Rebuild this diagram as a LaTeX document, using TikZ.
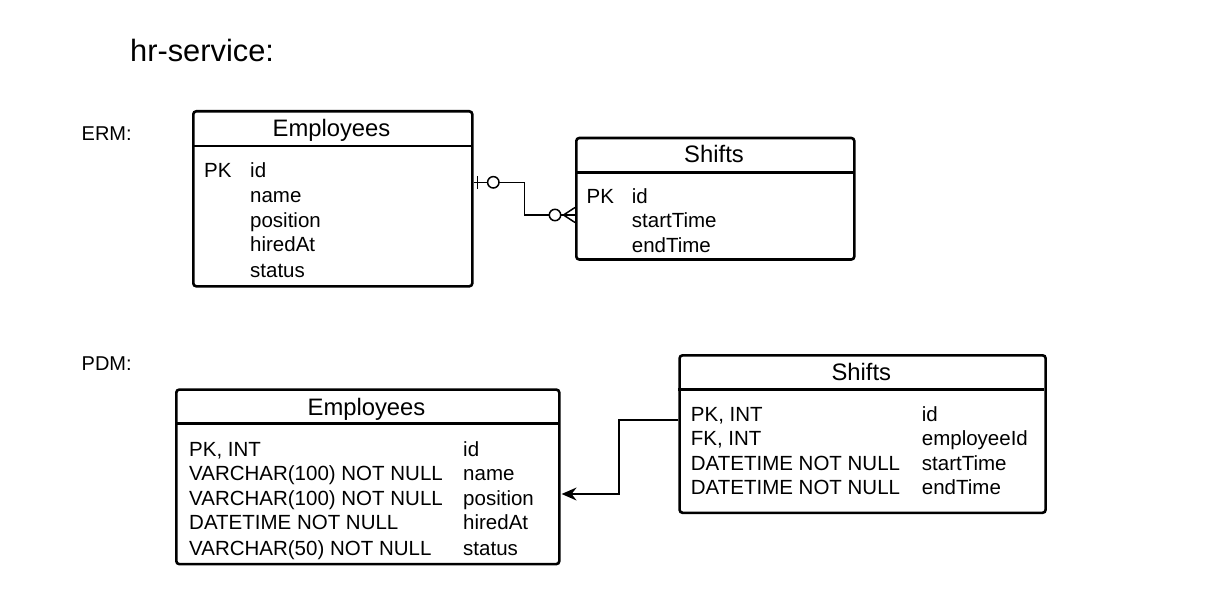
\documentclass[tikz,border=0pt]{standalone}
\usepackage{fontspec}
\setmainfont{Liberation Sans}
\usetikzlibrary{arrows.meta}
\begin{document}
\begin{tikzpicture}[x=1pt,y=-1pt,
  tbl/.style={draw, line width=2.6pt, rounded corners=3pt, inner sep=0pt, anchor=north west},
  sep/.style={line width=2.6pt},
  ttl/.style={inner sep=0pt, anchor=base, font=\fontsize{23.8}{28}\selectfont},
  row/.style={inner sep=0pt, anchor=base west, font=\fontsize{20.5}{24}\selectfont},
  lbl/.style={inner sep=0pt, anchor=base west, font=\fontsize{20}{24}\selectfont},
  conn/.style={line width=1.5pt},
]
\useasboundingbox (0,0) rectangle (1222,596);

% headings
\node[inner sep=0pt, anchor=base west, font=\fontsize{30.8}{36}\selectfont] (title) at (130,62) {hr-service:};
\node[lbl] (erm) at (81.5,141) {ERM:};
\node[lbl] (pdm) at (81.5,370) {PDM:};

% ERM Employees
\node[tbl, minimum width=279pt, minimum height=175pt] (e1) at (192,110) {};
\draw[sep] (192,146) -- (471,146);
\node[ttl] (e1t) at (331.5,137) {Employees};
\node[row] (e1pk) at (204,177.5) {PK};
\node[row] (e1a) at (250,177.5) {id};
\node[row] (e1b) at (250,202) {name};
\node[row] (e1c) at (250,227) {position};
\node[row] (e1d) at (250,251) {hiredAt};
\node[row] (e1e) at (250,277) {status};

% ERM Shifts
\node[tbl, minimum width=278pt, minimum height=121.5pt] (s1) at (575,136.7) {};
\draw[sep] (575,172.3) -- (853,172.3);
\node[ttl] (s1t) at (714,163) {Shifts};
\node[row] (s1pk) at (586.5,203) {PK};
\node[row] (s1a) at (631.7,203) {id};
\node[row] (s1b) at (631.7,227.5) {startTime};
\node[row] (s1c) at (631.7,252) {endTime};

% ERM relation (zero-or-one to zero-or-many)
\coordinate (r1) at (524.3,182.3);
\coordinate (r2) at (524.3,215);
\coordinate (c1) at (493.3,182.3);
\coordinate (c2) at (555,215);
\draw[conn] (e1.east |- r1) -- (487.6,182.3);
\draw[conn] (477.3,176) -- (477.3,188.6);
\draw[conn] (c1) circle (5.7pt);
\draw[conn] (499,182.3) -- (r1) -- (r2) -- (549.3,215);
\draw[conn] (c2) circle (5.7pt);
\draw[conn] (560.7,215) -- (s1.west |- r2);
\draw[conn] (575,207.5) -- (563.5,215) -- (575,222.5);

% PDM Employees
\node[tbl, minimum width=383pt, minimum height=174.5pt] (e2) at (175,388.3) {};
\draw[sep] (175,423.5) -- (558,423.5);
\node[ttl] (e2t) at (366.5,415) {Employees};
\node[row] (e2r1) at (189,456) {PK, INT};
\node[row] (e2r2) at (189,480.5) {VARCHAR(100) NOT NULL};
\node[row] (e2r3) at (189,505) {VARCHAR(100) NOT NULL};
\node[row] (e2r4) at (189,529.5) {DATETIME NOT NULL};
\node[row] (e2r5) at (189,555) {VARCHAR(50) NOT NULL};
\node[row] (e2c1) at (463,456) {id};
\node[row] (e2c2) at (463,480.5) {name};
\node[row] (e2c3) at (463,505) {position};
\node[row] (e2c4) at (463,529.5) {hiredAt};
\node[row] (e2c5) at (463,555) {status};

% PDM Shifts
\node[tbl, minimum width=366pt, minimum height=157.5pt] (s2) at (678.3,354) {};
\draw[sep] (678.3,389.3) -- (1044.3,389.3);
\node[ttl] (s2t) at (861.3,380) {Shifts};
\node[row] (s2r1) at (690.7,421.7) {PK, INT};
\node[row] (s2r2) at (690.7,445.5) {FK, INT};
\node[row] (s2r3) at (690.7,470) {DATETIME NOT NULL};
\node[row] (s2r4) at (690.7,494) {DATETIME NOT NULL};
\node[row] (s2c1) at (921.7,421.7) {id};
\node[row] (s2c2) at (921.7,445.5) {employeeId};
\node[row] (s2c3) at (921.7,470) {startTime};
\node[row] (s2c4) at (921.7,494) {endTime};

% PDM relation
\coordinate (p1) at (619,420);
\coordinate (p2) at (619,494);
\draw[conn, -{Stealth[length=15pt,width=13pt,inset=5pt]}] (s2.west |- p1) -- (p1) -- (p2) -- ([xshift=1pt]e2.east |- p2);
\end{tikzpicture}
\end{document}
